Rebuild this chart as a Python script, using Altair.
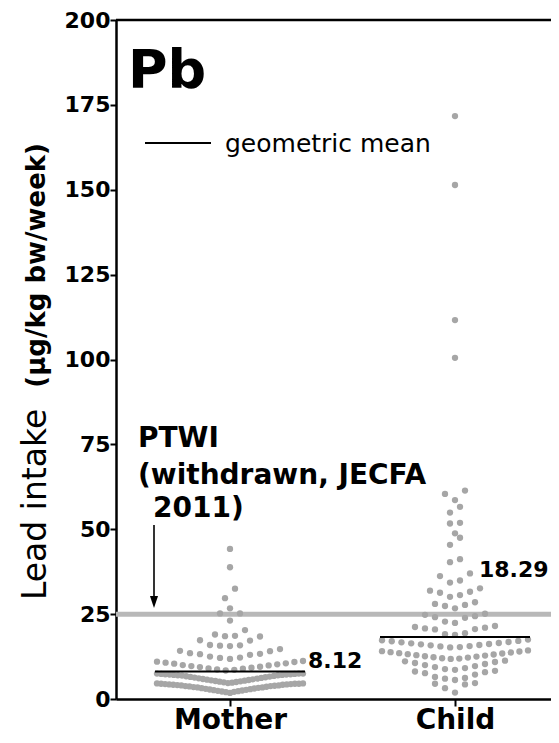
import altair as alt
import pandas as pd

# ---------------- data ----------------
mother_values = [
    # lowest dense band
    1.8, 2.0, 2.1, 2.2, 2.3, 2.4, 2.5, 2.6, 2.7, 2.8, 2.9, 3.0, 3.1, 3.2, 3.3, 3.4, 3.4, 3.5,
    3.6, 3.7, 3.8, 3.8, 3.9, 4.0, 4.0, 4.1, 4.2, 4.2, 4.3, 4.3, 4.4, 4.4, 4.5, 4.5, 4.5, 4.6, 4.6,
    # second dense band
    4.7, 4.8, 4.9, 5.0, 5.1, 5.2, 5.3, 5.4, 5.5, 5.6, 5.7, 5.8, 5.9, 6.0, 6.1, 6.2, 6.3, 6.4,
    6.5, 6.6, 6.7, 6.8, 6.9, 7.0, 7.0, 7.1, 7.1, 7.2, 7.2, 7.3, 7.3, 7.4, 7.4, 7.5, 7.5, 7.5,
    # rows above the mean
    8.4, 8.6, 8.7, 8.9, 9.0, 9.2, 9.4, 9.5, 9.7, 9.9, 10.0, 10.2, 10.4, 10.5, 10.7, 10.9, 11.0, 11.2,
    11.8, 12.1, 12.2, 12.5, 13.0, 13.2, 13.3, 13.5, 14.1, 14.2,
    14.7, 15.6, 15.7, 15.8, 15.9, 17.2, 17.3,
    18.4, 18.5, 18.6, 19.0, 20.3,
    23.1, 25.2, 25.2,
    26.7,
    29.7, 32.5,
    38.8,
    44.2,
]

child_values = [
    1.9, 3.2, 4.3, 4.5, 4.7,
    5.6, 6.0, 6.2, 6.5, 7.2, 7.6, 7.9, 8.1, 8.3,
    8.6, 8.8, 9.1, 9.4, 9.7, 10.0, 10.3, 10.6, 10.9, 11.1, 11.3,
    11.8, 11.9, 12.0, 12.2, 12.3, 12.5, 12.6, 12.8, 12.9, 13.1, 13.2, 13.4, 13.5, 13.7, 13.8, 14.0, 14.1, 14.3,
    15.2, 15.3, 15.5, 15.6, 15.8, 15.9, 16.1, 16.2, 16.4, 16.5, 16.7, 16.8, 17.0, 17.1, 17.3, 17.5,
    18.9, 19.1, 19.4, 20.5, 20.6, 20.8, 21.0, 21.2, 21.5,
    22.4, 22.8, 23.9, 24.1, 24.4, 24.8, 25.1,
    26.7, 27.4, 27.7, 28.0, 28.5,
    30.1, 30.6, 31.3, 31.6, 31.9, 32.6,
    34.3, 34.9, 36.2, 37.0,
    40.3, 41.2,
    45.4, 47.5,
    48.8,
    51.7, 51.9,
    54.9, 56.6,
    58.6, 60.4, 61.4,
    100.5, 111.6, 151.4, 171.7,
]

groups = ["Mother", "Child"]
geo_means = [8.12, 18.29]
mean_labels = ["8.12", "18.29"]
ptwi = 25
y_ticks = [0, 25, 50, 75, 100, 125, 150, 175, 200]

# ---------------- layout ----------------
W, H = 435, 679
PX_PER_X = 225.0
X_MIN = 1 - 114 / PX_PER_X
X_MAX = X_MIN + W / PX_PER_X
ROW_H = 2.9                  # value span of one swarm row
GAP = 10 / PX_PER_X          # dot spacing
MAX_W = 146 / PX_PER_X       # max row width
HALF_LINE = 75 / PX_PER_X
FONT = "DejaVu Sans"
DOT = "#a6a6a6"


def swarm(values, center):
    vals = sorted(values)
    rows, cur = [], []
    for v in vals:
        if cur and v >= cur[0] + ROW_H:
            rows.append(cur)
            cur = []
        cur.append(v)
    if cur:
        rows.append(cur)
    out = []
    for row in rows:
        n = len(row)
        step = min(GAP, MAX_W / (n - 1)) if n > 1 else 0
        if n % 2:
            slots = [0]
            k = 1
            while len(slots) < n:
                slots += [-k, k]
                k += 1
        else:
            slots = []
            k = 0.5
            while len(slots) < n:
                slots += [-k, k]
                k += 1
        for v, s in zip(row, slots):
            out.append({"x": center + s * step, "v": v})
    return out


pts = []
for i, (g, vals) in enumerate(zip(groups, [mother_values, child_values])):
    for p in swarm(vals, i + 1):
        p["group"] = g
        pts.append(p)
points_df = pd.DataFrame(pts)

means_df = pd.DataFrame({
    "group": groups,
    "x1": [i + 1 - HALF_LINE for i in range(2)],
    "x2": [i + 1 + HALF_LINE for i in range(2)],
    "gm": geo_means,
})

xscale = alt.Scale(domain=[X_MIN, X_MAX], nice=False, zero=False)
yscale = alt.Scale(domain=[0, 200], nice=False)

x_axis = alt.Axis(
    values=[1, 2], labelExpr="datum.value == 1 ? 'Mother' : 'Child'", title=None,
    grid=False, domainColor="black", domainWidth=2.5, tickColor="black", tickWidth=2,
    tickSize=7, labelFont=FONT, labelFontSize=28, labelFontWeight="bold",
    labelColor="black", labelPadding=22, labelBaseline="alphabetic",
)
y_axis = alt.Axis(
    values=y_ticks, title=None, grid=False, domainColor="black", domainWidth=2.5,
    tickColor="black", tickWidth=2, tickSize=6, labelFont=FONT, labelFontSize=22,
    labelFontWeight="bold", labelColor="black", labelPadding=0,
)


def px_x(p):
    return X_MIN + (p - 116) / PX_PER_X


def px_y(p):
    return (699 - p) * 200 / 679


ptwi_line = alt.Chart(pd.DataFrame({"v": [ptwi]})).mark_rule(
    color="#b8b8b8", strokeWidth=5
).encode(y=alt.Y("v:Q", scale=yscale, axis=y_axis), x=alt.value(0), x2=alt.value(W))

dots = alt.Chart(points_df).mark_circle(size=40, color=DOT, opacity=1).encode(
    x=alt.X("x:Q", scale=xscale, axis=x_axis),
    y=alt.Y("v:Q", scale=yscale, axis=y_axis),
)

mean_rules = alt.Chart(means_df).mark_rule(color="black", strokeWidth=2).encode(
    x=alt.X("x1:Q", scale=xscale), x2="x2:Q", y=alt.Y("gm:Q", scale=yscale)
)

top_line = alt.Chart(pd.DataFrame({"v": [200]})).mark_rule(color="black", strokeWidth=2.5).encode(
    y=alt.Y("v:Q", scale=yscale), x=alt.value(0), x2=alt.value(W)
)


def text(t, x, y, size, weight="bold", align="left", baseline="alphabetic"):
    return alt.Chart(pd.DataFrame({"t": [t], "xx": [x], "yy": [y]})).mark_text(
        font=FONT, fontSize=size, fontWeight=weight, align=align, baseline=baseline, color="black"
    ).encode(x=alt.X("xx:Q", scale=xscale), y=alt.Y("yy:Q", scale=yscale), text="t:N")


labels = [
    text("Pb", px_x(128), px_y(88), 54),
    text("geometric mean", px_x(225), px_y(152), 25, weight="normal"),
    text("PTWI", px_x(138), px_y(447), 28),
    text("(withdrawn, JECFA", px_x(138), px_y(484), 28),
    text("2011)", px_x(153), px_y(517), 28),
    text(mean_labels[0], px_x(308), px_y(668), 22),
    text(mean_labels[1], px_x(479), px_y(577), 22),
]

legend_line = alt.Chart(pd.DataFrame({"a": [px_x(145)], "b": [px_x(211)], "v": [px_y(143)]})).mark_rule(
    color="black", strokeWidth=2
).encode(x=alt.X("a:Q", scale=xscale), x2="b:Q", y=alt.Y("v:Q", scale=yscale))

arrow_shaft = alt.Chart(pd.DataFrame({"a": [px_x(154)], "v1": [px_y(525)], "v2": [px_y(602)]})).mark_rule(
    color="black", strokeWidth=1.6
).encode(x=alt.X("a:Q", scale=xscale), y=alt.Y("v1:Q", scale=yscale), y2="v2:Q")

arrow_head = alt.Chart(pd.DataFrame({"a": [px_x(154)], "v": [px_y(602)]})).mark_point(
    shape="M-0.67,-1L0.67,-1L0,1Z", filled=True, color="black", opacity=1, size=144, strokeWidth=0
).encode(x=alt.X("a:Q", scale=xscale), y=alt.Y("v:Q", scale=yscale))

ytitle1 = alt.Chart(pd.DataFrame({"t": ["Lead intake"]})).mark_text(
    font=FONT, fontSize=33, fontWeight="normal", angle=270, align="left", baseline="alphabetic",
    color="black"
).encode(x=alt.value(46 - 116), y=alt.value(600 - 20), text="t:N")

ytitle2 = alt.Chart(pd.DataFrame({"t": ["(µg/kg bw/week)"]})).mark_text(
    font=FONT, fontSize=26, fontWeight="bold", angle=270, align="right", baseline="alphabetic",
    color="black"
).encode(x=alt.value(45 - 116), y=alt.value(143 - 20), text="t:N")

chart = alt.layer(
    ptwi_line, dots, mean_rules, top_line, legend_line, arrow_shaft, arrow_head,
    ytitle1, ytitle2, *labels
).properties(
    width=W, height=H, autosize=alt.AutoSizeParams(type="none"),
    padding={"left": 108, "top": 12, "right": 0, "bottom": 35},
).configure_view(stroke=None).configure(background="white")

chart.save("out.html", embed_options={"renderer": "svg", "actions": False})
